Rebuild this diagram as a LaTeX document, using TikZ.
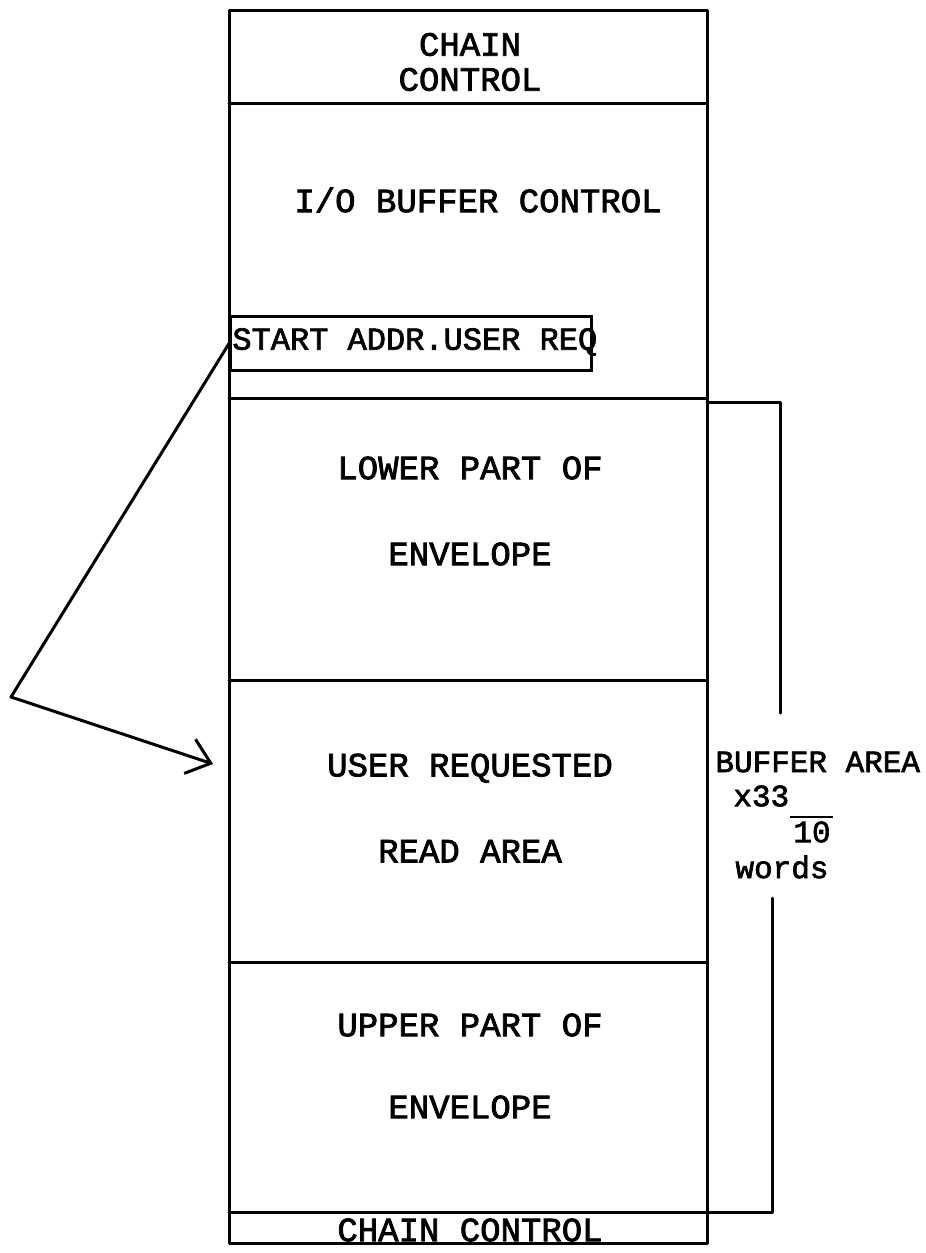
\documentclass[tikz,border=0pt]{standalone}
\usepackage{fontspec}
\newfontfamily\tw{Liberation Mono}[FakeBold=2.2]
\usetikzlibrary{arrows.meta}
\tikzset{
  ln/.style={line width=1.5pt, line cap=round, line join=round},
  lbl/.style={font=\tw\fontsize{17}{43}\selectfont, align=center, inner sep=0pt},
  sm/.style={font=\tw\fontsize{15.5}{16}\selectfont, inner sep=0pt},
  frame/.style={draw, line width=1.5pt, inner sep=0pt, anchor=north west},
}
\begin{document}
\begin{tikzpicture}[x=0.5pt,y=-0.5pt]
\useasboundingbox (0,0) rectangle (926,1253);
% outer box and dividers
\draw[ln] (229,10) rectangle (707,1243);
\draw[ln] (229,103) -- (707,103);
\draw[ln] (229,398) -- (707,398);
\draw[ln] (229,680) -- (707,680);
\draw[ln] (229,962) -- (707,962);
% start address box
\node[frame, minimum width=180.5pt, minimum height=27pt] (sabox) at (229,315) {};
\node[lbl, font=\tw\fontsize{16}{16}\selectfont, anchor=west] (sa) at (232,342) {START ADDR.USER REQ};
% texts
\node[lbl, font=\tw\fontsize{17}{17.5}\selectfont] (cc1) at (470,62) {CHAIN\\CONTROL};
\node[lbl] (iobc) at (478,200) {I/O BUFFER CONTROL};
\node[lbl] (lower) at (470,511) {LOWER PART OF\\ENVELOPE};
\node[lbl] (user) at (470,808) {USER REQUESTED\\READ AREA};
\node[lbl, font=\tw\fontsize{17}{41}\selectfont] (upper) at (470,1066) {UPPER PART OF\\ENVELOPE};
\node[lbl] (cc2) at (470,1230) {CHAIN CONTROL};
% bracket
\coordinate (bt0) at (707,402);
\coordinate (bt1) at (780,402);
\coordinate (bt2) at (780,713);
\coordinate (bb0) at (229,1212);
\coordinate (bb1) at (772,1212);
\coordinate (bb2) at (772,898);
\draw[ln] (bt0) -- (bt1) -- (bt2);
\draw[ln] (bb2) -- (bb1) -- (bb0);
% buffer area label
\node[sm, anchor=west] (buf) at (715,762) {BUFFER AREA};
\node[sm, anchor=west] (x33) at (733,796) {x33};
\node[sm] (ten) at (812,832) {10};
\draw[line width=1pt] (790,817) -- (833,817);
\node[sm] (words) at (782,867) {words};
% arrow
\coordinate (vx) at (11,697);
\coordinate (tip) at (213,764);
\draw[ln, -{Straight Barb[length=11pt,width=18pt,line width=1.5pt]}] (sabox.west) -- (vx) -- (tip);
\end{tikzpicture}
\end{document}
